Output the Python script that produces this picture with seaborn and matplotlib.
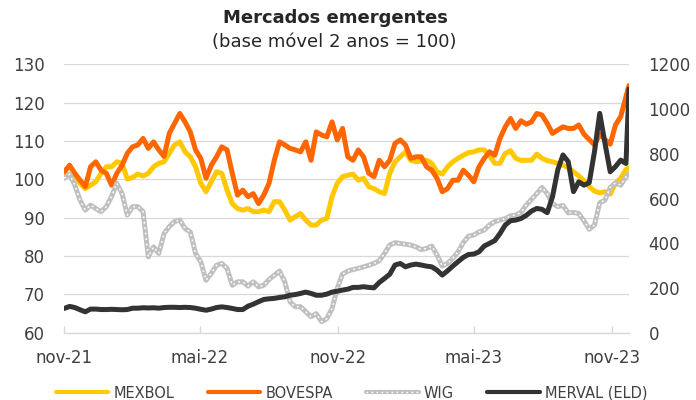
import matplotlib
matplotlib.use("Agg")
import matplotlib.pyplot as plt
from matplotlib.lines import Line2D
import pandas as pd
import seaborn as sns

# weekly readings from 1 Nov 2021, last point on 24 Nov 2023
dates = list(pd.date_range("2021-11-01", periods=108, freq="7D")) + [pd.Timestamp("2023-11-24")]

mexbol = [101.6, 101.1, 100.3, 99.0, 97.6, 98.5, 99.4, 101.6, 103.3, 103.3,
          104.6, 104.2, 100.1, 100.5, 101.4, 100.9, 101.6, 103.3, 104.2, 104.6,
          106.8, 109.0, 109.8, 107.2, 105.9, 103.3, 99.0, 96.8, 99.4, 102.0,
          101.6, 97.2, 93.7, 92.4, 92.0, 92.4, 91.6, 91.6, 92.0, 91.6,
          94.2, 94.2, 92.0, 89.4, 90.3, 91.1, 89.4, 88.1, 88.1, 89.4,
          89.8, 95.5, 99.0, 100.7, 101.1, 101.4, 99.8, 100.3, 98.1, 97.6,
          96.8, 96.3, 101.6, 104.6, 105.9, 107.2, 105.0, 104.6, 104.8, 105.0,
          104.2, 102.0, 101.4, 103.3, 104.6, 105.5, 106.3, 107.0, 107.2, 107.7,
          107.7, 106.3, 104.2, 104.2, 106.8, 107.5, 105.5, 105.0, 105.0, 105.0,
          106.6, 105.5, 104.9, 104.6, 104.2, 103.7, 103.1, 102.0, 100.9, 99.7,
          98.1, 97.0, 96.5, 96.8, 96.2, 99.0, 100.3, 102.6, 103.0]

bovespa = [102.0, 103.7, 101.6, 99.8, 98.1, 103.3, 104.6, 102.4, 101.6, 98.5,
           101.6, 103.7, 106.8, 108.5, 109.0, 110.7, 108.1, 109.8, 107.7, 106.0,
           112.0, 114.6, 117.2, 115.0, 112.4, 107.7, 105.5, 100.3, 103.7, 105.9,
           108.5, 107.7, 101.6, 95.9, 97.2, 95.5, 96.3, 93.7, 95.9, 99.0,
           105.0, 109.8, 109.0, 108.1, 107.7, 107.2, 109.8, 105.0, 112.4, 111.6,
           111.1, 115.0, 110.3, 113.3, 105.9, 105.0, 107.7, 105.9, 101.6, 100.7,
           105.0, 103.3, 105.0, 109.4, 110.3, 109.0, 105.5, 105.9, 105.9, 103.3,
           102.4, 100.3, 96.8, 97.6, 99.8, 99.8, 102.4, 101.1, 99.4, 103.3,
           105.5, 107.2, 106.3, 110.7, 113.7, 115.9, 113.3, 115.3, 114.4, 115.0,
           117.2, 116.8, 114.6, 112.0, 112.9, 113.7, 113.3, 113.3, 114.2, 111.8,
           110.4, 109.0, 111.8, 110.4, 109.2, 114.2, 116.4, 121.6, 124.5]

wig = [100.3, 101.4, 98.5, 94.6, 92.0, 93.3, 92.4, 91.6, 92.9, 95.5,
       99.0, 96.3, 90.7, 92.9, 92.9, 91.6, 79.8, 82.4, 80.7, 85.9,
       87.7, 89.0, 89.4, 87.2, 86.3, 80.7, 78.5, 73.7, 75.5, 77.6,
       78.1, 76.8, 72.4, 73.3, 73.3, 72.2, 73.3, 72.0, 72.4, 73.9,
       75.0, 76.1, 73.3, 68.1, 66.8, 66.8, 65.5, 64.2, 65.0, 62.9,
       63.7, 66.3, 71.6, 75.3, 76.1, 76.5, 76.8, 77.2, 77.6, 78.1,
       78.8, 80.7, 82.9, 83.5, 83.3, 83.1, 82.9, 82.4, 81.7, 82.0,
       82.6, 80.3, 77.4, 78.1, 79.4, 81.1, 83.5, 85.2, 85.5, 86.3,
       86.8, 88.1, 89.0, 89.4, 89.8, 90.5, 90.7, 91.4, 93.3, 94.8,
       96.3, 97.9, 96.3, 93.7, 92.9, 93.2, 91.3, 91.4, 91.1, 89.2,
       87.0, 88.1, 93.9, 94.6, 97.9, 99.1, 98.5, 100.7, 101.5]

merval = [109, 118, 113, 103, 94, 106, 106, 104, 104, 105,
          104, 103, 104, 110, 110, 112, 111, 112, 110, 113,
          114, 114, 113, 114, 113, 110, 105, 101, 106, 113,
          116, 113, 109, 104, 104, 119, 128, 139, 149, 152,
          154, 158, 161, 168, 171, 176, 182, 176, 168, 168,
          173, 182, 186, 191, 195, 203, 203, 206, 203, 201,
          225, 243, 262, 303, 310, 295, 303, 307, 303, 298,
          295, 280, 258, 277, 298, 318, 337, 350, 352, 362,
          388, 400, 412, 444, 482, 501, 504, 511, 525, 544,
          556, 552, 537, 608, 728, 795, 765, 631, 675, 660,
          671, 810, 981, 847, 720, 743, 772, 757, 1090]

tick_dates = ["2021-11-01", "2022-05-01", "2022-11-01", "2023-05-01", "2023-11-01"]
tick_labels = ["nov-21", "mai-22", "nov-22", "mai-23", "nov-23"]

df = pd.DataFrame({"data": dates, "MEXBOL": mexbol, "BOVESPA": bovespa,
                   "WIG": wig, "MERVAL": merval})

c_mex, c_bov, c_wig, c_mer = "#FFC800", "#FF6600", "#C0C0C0", "#333333"
txt = "#404040"

sns.set_theme(style="white")
plt.rcParams["font.family"] = ["DejaVu Sans"]

fig = plt.figure(figsize=(6.96, 4.0), dpi=100)
ax = fig.add_axes([0.0924, 0.168, 0.8113, 0.671])
ax2 = ax.twinx()

lw = 3.6
dots = (0, (1.2, 2.4))
sns.lineplot(data=df, x="data", y="MEXBOL", ax=ax, color=c_mex, lw=lw)
sns.lineplot(data=df, x="data", y="BOVESPA", ax=ax, color=c_bov, lw=lw)
sns.lineplot(data=df, x="data", y="WIG", ax=ax, color=c_wig, lw=lw)
sns.lineplot(data=df, x="data", y="WIG", ax=ax, color="white", lw=1.1, linestyle=dots)
sns.lineplot(data=df, x="data", y="MERVAL", ax=ax2, color=c_mer, lw=lw)

ax.set_xlim(pd.Timestamp("2021-11-01"), pd.Timestamp("2023-11-24"))
ax.set_xticks(pd.to_datetime(tick_dates))
ax.set_xticklabels(tick_labels)
ax.set_ylim(60, 130)
ax.set_yticks(range(60, 131, 10))
ax2.set_ylim(0, 1200)
ax2.set_yticks(range(0, 1201, 200))
for a in (ax, ax2):
    a.set_xlabel("")
    a.set_ylabel("")
    for s in a.spines.values():
        s.set_visible(False)
ax.spines["bottom"].set_visible(True)
ax.spines["bottom"].set_color("#d9d9d9")
ax.spines["bottom"].set_linewidth(1)

ax.grid(axis="y", color="#d9d9d9", lw=0.9)
ax.grid(axis="x", visible=False)
ax.tick_params(axis="y", length=0, pad=14, labelsize=12, labelcolor=txt)
ax2.tick_params(axis="y", length=0, pad=14, labelsize=12, labelcolor=txt)
ax.tick_params(axis="x", direction="in", length=5, width=1, color="#d9d9d9",
               pad=12, labelsize=12, labelcolor=txt, bottom=True)

fig.text(0.482, 1 - 18 / 400, "Mercados emergentes", ha="center", va="center",
         fontsize=13, fontweight="bold", color="#262626")
fig.text(0.48, 1 - 42 / 400, "(base móvel 2 anos = 100)", ha="center", va="center",
         fontsize=13, color="#262626")

handles = [Line2D([], [], color=c_mex, lw=3),
           Line2D([], [], color=c_bov, lw=3),
           (Line2D([], [], color=c_wig, lw=3), Line2D([], [], color="white", lw=1, ls=dots)),
           Line2D([], [], color=c_mer, lw=3)]
labels = ["MEXBOL", "BOVESPA", "WIG", "MERVAL (ELD)"]
fig.legend(handles, labels, loc="center", bbox_to_anchor=(0.505, 0.0175), ncol=4,
           frameon=False, fontsize=10.5, labelcolor=txt, handlelength=3.6,
           handletextpad=0.35, columnspacing=2.3)

fig.savefig("out.png", dpi=100)
plt.close(fig)
